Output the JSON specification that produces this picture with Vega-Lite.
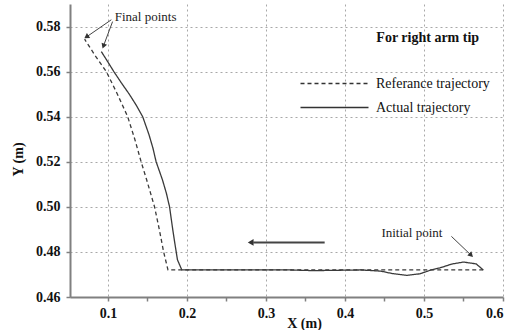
{
  "$schema": "https://vega.github.io/schema/vega-lite/v6.json",
  "width": 433,
  "height": 293,
  "autosize": "none",
  "padding": {"left": 70, "top": 4, "right": 10, "bottom": 33},
  "background": "white",
  "config": {
    "view": {"stroke": null},
    "font": "Liberation Serif, Times New Roman, serif",
    "axis": {
      "domainColor": "#808080",
      "domainWidth": 2,
      "tickColor": "#808080",
      "tickWidth": 1.5,
      "tickSize": 4,
      "gridColor": "#a8a8a8",
      "gridDash": [2, 3],
      "gridWidth": 1,
      "labelFont": "Liberation Serif, Times New Roman, serif",
      "labelFontSize": 14,
      "labelFontWeight": "bold",
      "labelColor": "#111111",
      "titleFont": "Liberation Serif, Times New Roman, serif",
      "titleFontSize": 14,
      "titleFontWeight": "bold",
      "titleColor": "#111111"
    }
  },
  "datasets": {
    "traj": [
      {"series": "Referance trajectory", "i": 0, "x": 0.575, "y": 0.472},
      {"series": "Referance trajectory", "i": 1, "x": 0.176, "y": 0.472},
      {"series": "Referance trajectory", "i": 2, "x": 0.1705, "y": 0.48},
      {"series": "Referance trajectory", "i": 3, "x": 0.165, "y": 0.49},
      {"series": "Referance trajectory", "i": 4, "x": 0.159, "y": 0.5},
      {"series": "Referance trajectory", "i": 5, "x": 0.149, "y": 0.512},
      {"series": "Referance trajectory", "i": 6, "x": 0.142, "y": 0.52},
      {"series": "Referance trajectory", "i": 7, "x": 0.134, "y": 0.53},
      {"series": "Referance trajectory", "i": 8, "x": 0.125, "y": 0.54},
      {"series": "Referance trajectory", "i": 9, "x": 0.112, "y": 0.55},
      {"series": "Referance trajectory", "i": 10, "x": 0.098, "y": 0.56},
      {"series": "Referance trajectory", "i": 11, "x": 0.084, "y": 0.567},
      {"series": "Referance trajectory", "i": 12, "x": 0.0705, "y": 0.5744},
      {"series": "Actual trajectory", "i": 0, "x": 0.575, "y": 0.472},
      {"series": "Actual trajectory", "i": 1, "x": 0.566, "y": 0.4747},
      {"series": "Actual trajectory", "i": 2, "x": 0.55, "y": 0.4755},
      {"series": "Actual trajectory", "i": 3, "x": 0.535, "y": 0.4746},
      {"series": "Actual trajectory", "i": 4, "x": 0.52, "y": 0.4729},
      {"series": "Actual trajectory", "i": 5, "x": 0.509, "y": 0.472},
      {"series": "Actual trajectory", "i": 6, "x": 0.495, "y": 0.4703},
      {"series": "Actual trajectory", "i": 7, "x": 0.478, "y": 0.4696},
      {"series": "Actual trajectory", "i": 8, "x": 0.46, "y": 0.4704},
      {"series": "Actual trajectory", "i": 9, "x": 0.445, "y": 0.4715},
      {"series": "Actual trajectory", "i": 10, "x": 0.42, "y": 0.472},
      {"series": "Actual trajectory", "i": 11, "x": 0.36, "y": 0.4717},
      {"series": "Actual trajectory", "i": 12, "x": 0.33, "y": 0.472},
      {"series": "Actual trajectory", "i": 13, "x": 0.1935, "y": 0.472},
      {"series": "Actual trajectory", "i": 14, "x": 0.188, "y": 0.4765},
      {"series": "Actual trajectory", "i": 15, "x": 0.1855, "y": 0.482},
      {"series": "Actual trajectory", "i": 16, "x": 0.182, "y": 0.49},
      {"series": "Actual trajectory", "i": 17, "x": 0.178, "y": 0.5},
      {"series": "Actual trajectory", "i": 18, "x": 0.174, "y": 0.506},
      {"series": "Actual trajectory", "i": 19, "x": 0.169, "y": 0.512},
      {"series": "Actual trajectory", "i": 20, "x": 0.165, "y": 0.516},
      {"series": "Actual trajectory", "i": 21, "x": 0.161, "y": 0.52},
      {"series": "Actual trajectory", "i": 22, "x": 0.157, "y": 0.526},
      {"series": "Actual trajectory", "i": 23, "x": 0.152, "y": 0.532},
      {"series": "Actual trajectory", "i": 24, "x": 0.144, "y": 0.54},
      {"series": "Actual trajectory", "i": 25, "x": 0.136, "y": 0.545},
      {"series": "Actual trajectory", "i": 26, "x": 0.127, "y": 0.55},
      {"series": "Actual trajectory", "i": 27, "x": 0.117, "y": 0.555},
      {"series": "Actual trajectory", "i": 28, "x": 0.1075, "y": 0.56},
      {"series": "Actual trajectory", "i": 29, "x": 0.099, "y": 0.5648},
      {"series": "Actual trajectory", "i": 30, "x": 0.0916, "y": 0.5689}
    ],
    "arrows": [
      {"x": 0.1043, "y": 0.583, "x2": 0.0737, "y2": 0.5756, "w": 1},
      {"x": 0.1059, "y": 0.5822, "x2": 0.0947, "y2": 0.5717, "w": 1},
      {"x": 0.5347, "y": 0.4869, "x2": 0.5589, "y2": 0.4788, "w": 1},
      {"x": 0.3743, "y": 0.4842, "x2": 0.284, "y2": 0.4842, "w": 2}
    ],
    "heads": [
      {"x": 0.0737, "y": 0.5756, "a": 235.6, "s": 34},
      {"x": 0.0947, "y": 0.5717, "a": 200.6, "s": 34},
      {"x": 0.5589, "y": 0.4788, "a": 133.6, "s": 34},
      {"x": 0.2819, "y": 0.4842, "a": 270, "s": 45}
    ],
    "notes": [
      {"t": "Final points", "x": 0.1086, "y": 0.5844},
      {"t": "Initial point", "x": 0.4461, "y": 0.4885}
    ],
    "bold": [
      {"t": "For right arm tip", "x": 0.4397, "y": 0.5749}
    ]
  },
  "layer": [
    {
      "data": {"name": "traj"},
      "mark": {"type": "line", "strokeWidth": 1.3, "stroke": "#3a3a3a"},
      "encoding": {
        "x": {
          "field": "x", "type": "quantitative",
          "scale": {"domain": [0.052, 0.6], "nice": false, "zero": false},
          "axis": {
            "title": "X (m)",
            "values": [0.1, 0.15, 0.2, 0.25, 0.3, 0.35, 0.4, 0.45, 0.5, 0.55, 0.6],
            "labelExpr": "abs(datum.value*10-round(datum.value*10))<0.01 ? format(datum.value,'.1f') : ''",
            "gridOpacity": {"condition": {"test": "abs(datum.value*10-round(datum.value*10))<0.01", "value": 1}, "value": 0},
            "labelPadding": 5,
            "titleX": 234,
            "titleY": 30,
            "titleBaseline": "alphabetic"
          }
        },
        "y": {
          "field": "y", "type": "quantitative",
          "scale": {"domain": [0.46, 0.59], "nice": false, "zero": false},
          "axis": {
            "title": "Y (m)",
            "values": [0.46, 0.47, 0.48, 0.49, 0.5, 0.51, 0.52, 0.53, 0.54, 0.55, 0.56, 0.57, 0.58, 0.59],
            "labelExpr": "abs(datum.value*50-round(datum.value*50))<0.01 ? format(datum.value,'.2f') : ''",
            "gridOpacity": {"condition": {"test": "abs(datum.value*50-round(datum.value*50))<0.01", "value": 1}, "value": 0},
            "labelPadding": 6,
            "titleX": -52,
            "titleY": 155,
            "titleAngle": -90,
            "titleAlign": "center",
            "titleBaseline": "middle"
          }
        },
        "order": {"field": "i", "type": "quantitative"},
        "strokeDash": {
          "field": "series", "type": "nominal",
          "scale": {"domain": ["Referance trajectory", "Actual trajectory"], "range": [[4, 3], [1, 0]]},
          "legend": {
            "orient": "none",
            "legendX": 255,
            "legendY": 70,
            "title": null,
            "symbolType": "M-4,0H4",
            "symbolSize": 289,
            "symbolStrokeWidth": 1.5,
            "symbolStrokeColor": "#333333",
            "labelFont": "Liberation Serif, Times New Roman, serif",
            "labelFontSize": 14,
            "labelColor": "#111111",
            "labelOffset": 32,
            "labelLimit": 300,
            "rowPadding": 7
          }
        }
      }
    },
    {
      "data": {"name": "arrows"},
      "mark": {"type": "rule", "color": "#444444"},
      "encoding": {
        "x": {"field": "x", "type": "quantitative"},
        "y": {"field": "y", "type": "quantitative"},
        "x2": {"field": "x2"},
        "y2": {"field": "y2"},
        "strokeWidth": {"field": "w", "type": "quantitative", "scale": null, "legend": null}
      }
    },
    {
      "data": {"name": "heads"},
      "mark": {"type": "point", "shape": "triangle", "filled": true, "color": "#333333", "opacity": 1},
      "encoding": {
        "x": {"field": "x", "type": "quantitative"},
        "y": {"field": "y", "type": "quantitative"},
        "angle": {"field": "a", "type": "quantitative", "scale": null},
        "size": {"field": "s", "type": "quantitative", "scale": null, "legend": null}
      }
    },
    {
      "data": {"name": "notes"},
      "mark": {"type": "text", "align": "left", "baseline": "middle", "font": "Liberation Serif, Times New Roman, serif", "fontSize": 13, "color": "#222222"},
      "encoding": {
        "x": {"field": "x", "type": "quantitative"},
        "y": {"field": "y", "type": "quantitative"},
        "text": {"field": "t"}
      }
    },
    {
      "data": {"name": "bold"},
      "mark": {"type": "text", "align": "left", "baseline": "middle", "font": "Liberation Serif, Times New Roman, serif", "fontSize": 14, "fontWeight": "bold", "color": "#111111"},
      "encoding": {
        "x": {"field": "x", "type": "quantitative"},
        "y": {"field": "y", "type": "quantitative"},
        "text": {"field": "t"}
      }
    }
  ]
}
